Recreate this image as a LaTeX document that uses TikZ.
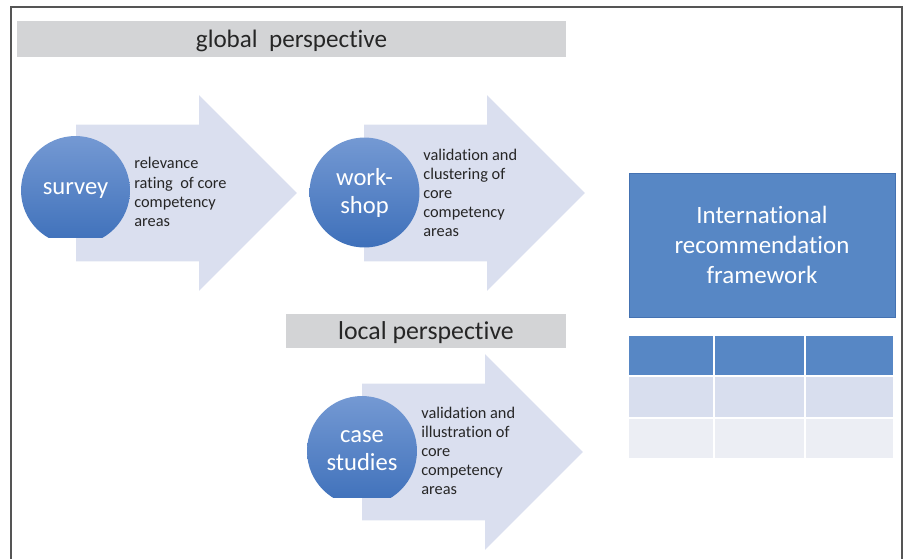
\documentclass[tikz,border=0pt]{standalone}
\usepackage{fontspec}
\setmainfont{Carlito}[Ligatures=NoCommon]
\usetikzlibrary{shapes.arrows}

\definecolor{barGray}{RGB}{211,212,214}
\definecolor{arrowBlue}{RGB}{218,223,239}
\definecolor{boxBlue}{RGB}{87,135,197}
\definecolor{boxEdge}{RGB}{68,114,178}
\definecolor{circTop}{RGB}{116,153,211}
\definecolor{circBottom}{RGB}{62,112,186}
\definecolor{rowLight}{RGB}{216,222,238}
\definecolor{rowPale}{RGB}{236,238,244}
\definecolor{frameGray}{RGB}{85,85,85}
\definecolor{textDark}{RGB}{38,38,38}

\tikzset{
    perspective/.style={fill=barGray, text=textDark, inner sep=0pt, text depth=0pt},
    flow/.style={single arrow, fill=arrowBlue, inner xsep=0pt, inner ysep=1.36cm, outer sep=0pt,
        minimum height=4.42cm, single arrow head extend=0.59cm, single arrow tip angle=90, anchor=tail},
    stage/.style={circle, text=white, align=center, inner sep=0pt, font=\fontsize{14}{16}\selectfont},
    task/.style={anchor=west, align=left, inner sep=0pt, text=textDark, font=\fontsize{9.3}{10.9}\selectfont},
}

\begin{document}
\begin{tikzpicture}[x=0.02cm, y=-0.02cm]
        \useasboundingbox (0,0) rectangle (906,558);
        \draw[frameGray, line width=1.1pt] (11,560) |- (902,7) -- (902,560);

        \node[perspective, minimum width=10.98cm, minimum height=0.72cm, font=\fontsize{14.3}{16}\selectfont] (global) at (291.5,39) {global~ perspective};
        \node[perspective, minimum width=5.6cm, minimum height=0.68cm, font=\fontsize{14.7}{16}\selectfont] (local) at (426,331) {local perspective};

        % process arrows
        \node[flow] (arrSurvey) at (76,193) {};
        \node[flow] (arrWorkshop) at (364,193) {};
        \node[flow] (arrCase) at (362,452) {};

        % stage circles
        \begin{scope}
            \clip (0,0) rectangle (906,237);
            \shade[top color=circTop, bottom color=circBottom] (75.5,190.5) circle (1.09cm);
        \end{scope}
        \shade[top color=circTop, bottom color=circBottom] (364.5,192.5) circle (1.1cm);
        \begin{scope}
            \clip (0,0) rectangle (906,497);
            \shade[top color=circTop, bottom color=circBottom] (362,451) circle (1.1cm);
        \end{scope}
        \node[stage] (survey) at (75.5,190.5) {survey};
        \node[stage] (workshop) at (364.5,193) {work-\\shop};
        \node[stage] (case) at (362,451) {case\\studies};

        \node[task] (rating) at (134,192) {relevance\\rating~ of core\\competency\\areas};
        \node[task] (clustering) at (423,193) {validation and\\clustering of\\core\\competency\\areas};
        \node[task] (illustration) at (421,451) {validation and\\illustration of\\core\\competency\\areas};

        % framework and table
        \node[draw=boxEdge, fill=boxBlue, text=white, align=center, minimum width=5.32cm, minimum height=2.88cm,
            font=\fontsize{14.2}{17}\selectfont] (framework) at (762,245) {International\\recommendation\\framework};
        \foreach \xa/\xb in {629/713, 715/804, 806/893} {
            \fill[boxBlue] (\xa,336) rectangle (\xb,375);
            \fill[rowLight] (\xa,377) rectangle (\xb,417);
            \fill[rowPale] (\xa,418.5) rectangle (\xb,458);
        }
\end{tikzpicture}
\end{document}
